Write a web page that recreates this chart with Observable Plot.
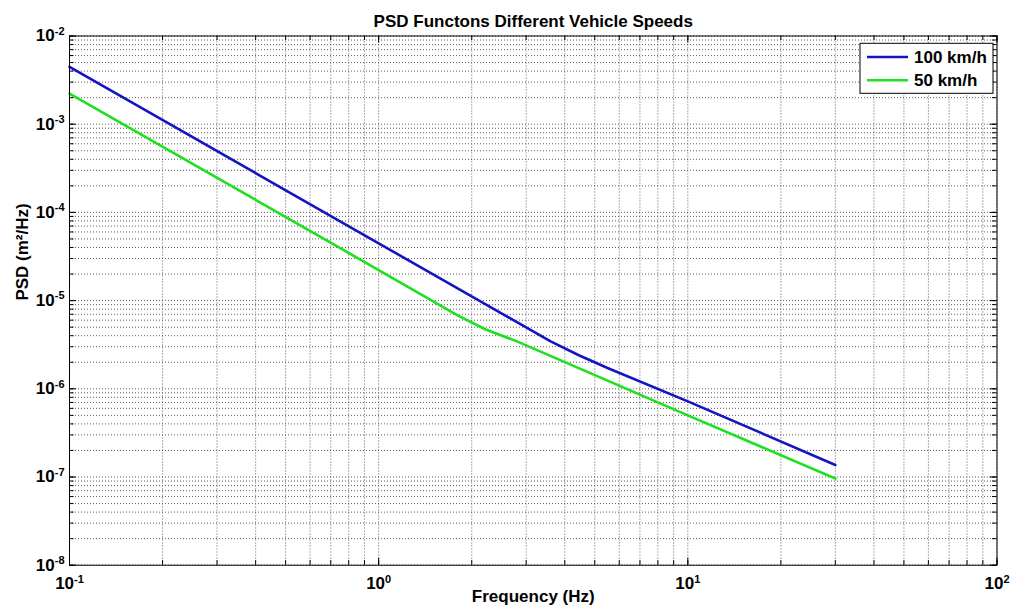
<!DOCTYPE html>
<html>
<head>
<meta charset="utf-8">
<script src="https://cdn.jsdelivr.net/npm/d3@7"></script>
<script src="https://cdn.jsdelivr.net/npm/@observablehq/plot@0.6"></script>
<style>
  body { margin: 0; background: #fff; }
  #chart svg { display: block; }
</style>
</head>
<body>
<div id="chart"></div>
<script>
// Texts
const title = "PSD Functons Different Vehicle Speeds";
const xLabel = "Frequency (Hz)";
const yLabel = "PSD (m²/Hz)";

// Series
const seriesNames = ["100 km/h", "50 km/h"];
const seriesColors = ["#1414c2", "#1fe01f"];

// 100 km/h road profile PSD
const freq100 = [0.1, 1, 3.6, 4.44, 5.5, 10, 30];
const psd100 = [4.47e-3, 4.46e-5, 3.45e-6, 2.4e-6, 1.72e-6, 7.2e-7, 1.37e-7];

// 50 km/h road profile PSD
const freq50 = [0.1, 1, 1.8, 2.22, 2.8, 10, 30];
const psd50 = [2.22e-3, 2.22e-5, 6.8e-6, 4.7e-6, 3.45e-6, 5.0e-7, 9.6e-8];

// Decade ticks (labelled)
const xDecades = [0.1, 1, 10, 100];
const yDecades = [1e-8, 1e-7, 1e-6, 1e-5, 1e-4, 1e-3, 1e-2];

// Every 1..9 multiple within each decade, for the grid and the minor ticks
const xGrid = d3.scaleLog().domain([0.1, 100]).ticks();
const yGrid = d3.scaleLog().domain([1e-8, 1e-2]).ticks();

const rows = [
  ...freq100.map((f, i) => ({ f, p: psd100[i], s: seriesNames[0] })),
  ...freq50.map((f, i) => ({ f, p: psd50[i], s: seriesNames[1] }))
];

const W = 1014, H = 616;
const mL = 69, mR = 17.5, mT = 35.5, mB = 51.3;
const fw = W - mL - mR, fh = H - mT - mB;
const font = "'Liberation Sans', Arial, Helvetica, sans-serif";
const majorLen = 7, minorLen = 4.5;

const expFormat = d => `10^${Math.round(Math.log10(d))}`;

const chart = Plot.plot({
  width: W,
  height: H,
  marginLeft: mL,
  marginRight: mR,
  marginTop: mT,
  marginBottom: mB,
  style: { fontFamily: font, background: "#fff", color: "#000", overflow: "visible" },
  x: { type: "log", domain: [0.1, 100] },
  y: { type: "log", domain: [1e-8, 1e-2] },
  color: { domain: seriesNames, range: seriesColors },
  marks: [
    // dotted grid
    Plot.ruleX(xGrid, { x: d => d, stroke: "#5e5e5e", strokeWidth: 1, strokeDasharray: "1,2" }),
    Plot.ruleY(yGrid, { y: d => d, stroke: "#5e5e5e", strokeWidth: 1, strokeDasharray: "1,2" }),

    // inward ticks on all four sides
    Plot.tickX(xGrid, { x: d => d, insetTop: fh - minorLen, stroke: "#000" }),
    Plot.tickX(xGrid, { x: d => d, insetBottom: fh - minorLen, stroke: "#000" }),
    Plot.tickX(xDecades, { x: d => d, insetTop: fh - majorLen, stroke: "#000" }),
    Plot.tickX(xDecades, { x: d => d, insetBottom: fh - majorLen, stroke: "#000" }),
    Plot.tickY(yGrid, { y: d => d, insetRight: fw - minorLen, stroke: "#000" }),
    Plot.tickY(yGrid, { y: d => d, insetLeft: fw - minorLen, stroke: "#000" }),
    Plot.tickY(yDecades, { y: d => d, insetRight: fw - majorLen, stroke: "#000" }),
    Plot.tickY(yDecades, { y: d => d, insetLeft: fw - majorLen, stroke: "#000" }),

    // curves
    Plot.line(rows, { x: "f", y: "p", z: "s", stroke: "s", strokeWidth: 2.6, strokeLinejoin: "round" }),

    Plot.frame({ stroke: "#000", strokeWidth: 1 }),

    // axes: decade labels only
    Plot.axisX(xDecades, {
      tickSize: 0, tickPadding: 12, tickFormat: expFormat,
      fontSize: 17, fontWeight: "bold", label: null
    }),
    Plot.axisY(yDecades, {
      tickSize: 0, tickPadding: 5, tickFormat: expFormat,
      fontSize: 17, fontWeight: "bold", label: null
    }),

    // title and axis titles
    Plot.text([title], { text: d => d, frameAnchor: "top", dy: -21, fontSize: 17, fontWeight: "bold" }),
    Plot.text([xLabel], { text: d => d, frameAnchor: "bottom", dy: 37, fontSize: 17, fontWeight: "bold" }),
    Plot.text([yLabel], { text: d => d, frameAnchor: "left", dx: -47, rotate: -90, fontSize: 17, fontWeight: "bold" })
  ]
});

// turn "10^e" tick labels into a base with a raised exponent
d3.select(chart)
  .selectAll('g[aria-label="x-axis tick label"] text, g[aria-label="y-axis tick label"] text')
  .each(function () {
    const parts = this.textContent.split("^");
    if (parts.length !== 2) return;
    const t = d3.select(this);
    t.text(parts[0]);
    t.append("tspan").attr("dy", "-0.6em").attr("font-size", "11px").text(parts[1]);
  });

// legend box in the upper right corner of the axes
const svg = d3.select(chart);
const right = W - mR;
const lg = svg.append("g").attr("font-family", font).attr("text-anchor", "start");
const bx = right - 136.5, by = mT + 7.8, bw = 133, bh = 50;
lg.append("rect")
  .attr("x", bx).attr("y", by).attr("width", bw).attr("height", bh)
  .attr("fill", "#fff").attr("stroke", "#000").attr("stroke-width", 1);
seriesNames.forEach((name, i) => {
  const yy = by + 13.7 + i * 23.3;
  lg.append("line")
    .attr("x1", bx + 7).attr("x2", bx + 48).attr("y1", yy).attr("y2", yy)
    .attr("stroke", seriesColors[i]).attr("stroke-width", 2.6);
  lg.append("text")
    .attr("x", bx + 54).attr("y", yy).attr("dy", "0.36em")
    .attr("text-anchor", "start")
    .attr("font-size", "17px").attr("font-weight", "bold").attr("fill", "#000")
    .text(name);
});

document.getElementById("chart").appendChild(chart);
</script>
</body>
</html>
